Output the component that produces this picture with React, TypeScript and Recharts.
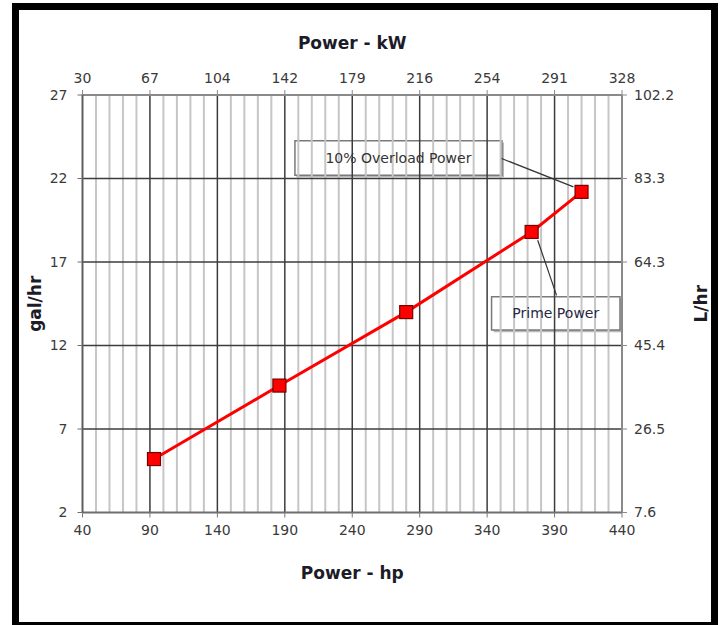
import React from 'react';
import {
  LineChart,
  Line,
  XAxis,
  YAxis,
  ReferenceLine,
  ReferenceArea,
} from 'recharts';

// readings taken off the original chart
const powerHp = [93, 186, 280, 373, 410];
const fuelGal = [5.2, 9.6, 14.0, 18.8, 21.2];

const hpTicks = [40, 90, 140, 190, 240, 290, 340, 390, 440];
const kwLabels = ['30', '67', '104', '142', '179', '216', '254', '291', '328'];
const galTicks = [2, 7, 12, 17, 22, 27];
const literLabels = ['7.6', '26.5', '45.4', '64.3', '83.3', '102.2'];

// light grid every 10 hp between the heavy ones
const minorHp: number[] = [];
for (let v = 50; v < 440; v += 10) {
  if (!hpTicks.includes(v)) minorHp.push(v);
}

const data = powerHp.map((hp, i) => ({ hp, gal: fuelGal[i] }));

const FONT = '"DejaVu Sans", Verdana, sans-serif';
const tickStyle = { fill: '#3a3a3a', fontSize: 14, fontFamily: FONT };
const titleStyle = { fill: '#1c1c28', fontSize: 17, fontWeight: 'bold', fontFamily: FONT };

const SquareDot = (props: any) => {
  const { cx, cy, index } = props;
  if (cx == null || cy == null) return null;
  return (
    <rect
      key={`dot-${index}`}
      x={cx - 6.5}
      y={cy - 6.5}
      width={13}
      height={13}
      fill="#ff0000"
      stroke="#7a0000"
      strokeWidth={1.2}
    />
  );
};

export default function App() {
  return (
    <div
      style={{
        position: 'absolute',
        left: 0,
        top: 0,
        width: 721,
        height: 625,
        overflow: 'hidden',
        background: '#fff',
      }}
    >
      <LineChart
        width={721}
        height={625}
        data={data}
        margin={{ top: 35, right: 5, bottom: 42.5, left: 20 }}
        style={{ fontFamily: FONT }}
      >
        <XAxis
          dataKey="hp"
          type="number"
          domain={[40, 440]}
          ticks={hpTicks}
          interval={0}
          allowDataOverflow
          height={70}
          tick={tickStyle}
          tickSize={5}
          tickMargin={8}
          stroke="#7a7a7a"
          axisLine={{ stroke: '#6e6e6e', strokeWidth: 2 }}
          label={{ value: 'Power - hp', position: 'insideBottom', offset: 4, style: titleStyle }}
        />
        <XAxis
          xAxisId="top"
          dataKey="hp"
          orientation="top"
          type="number"
          domain={[40, 440]}
          ticks={hpTicks}
          interval={0}
          allowDataOverflow
          height={60}
          tick={tickStyle}
          tickSize={5}
          tickMargin={7}
          tickFormatter={(v: number) => kwLabels[hpTicks.indexOf(v)]}
          stroke="#8a8a8a"
          axisLine={{ stroke: '#8a8a8a', strokeWidth: 2 }}
          label={{ value: 'Power - kW', position: 'insideTop', offset: 2, style: titleStyle }}
        />
        <YAxis
          type="number"
          domain={[2, 27]}
          ticks={galTicks}
          interval={0}
          allowDataOverflow
          width={62.5}
          tick={tickStyle}
          tickSize={5}
          tickMargin={10}
          stroke="#6e6e6e"
          axisLine={{ stroke: '#5e5e5e', strokeWidth: 2 }}
          label={{
            value: 'gal/hr',
            angle: -90,
            position: 'insideLeft',
            offset: 15,
            style: { ...titleStyle, textAnchor: 'middle' },
          }}
        />
        <YAxis
          yAxisId="right"
          dataKey="gal"
          orientation="right"
          type="number"
          domain={[2, 27]}
          ticks={galTicks}
          interval={0}
          allowDataOverflow
          width={94}
          tick={tickStyle}
          tickSize={5}
          tickMargin={7}
          tickFormatter={(v: number) => literLabels[galTicks.indexOf(v)]}
          stroke="#8a8a8a"
          axisLine={{ stroke: '#8a8a8a', strokeWidth: 2 }}
          label={{
            value: 'L/hr',
            angle: -90,
            position: 'insideRight',
            offset: 15,
            style: { ...titleStyle, textAnchor: 'middle' },
          }}
        />

        {minorHp.map((v) => (
          <ReferenceLine key={`m${v}`} x={v} stroke="#c6c6c6" strokeWidth={2} />
        ))}
        {hpTicks.slice(1, -1).map((v) => (
          <ReferenceLine key={`v${v}`} x={v} stroke="#3c3c3c" strokeWidth={1.5} />
        ))}
        {galTicks.slice(1, -1).map((v) => (
          <ReferenceLine key={`h${v}`} y={v} stroke="#3c3c3c" strokeWidth={1.5} />
        ))}

        {/* callout leaders */}
        <ReferenceLine
          segment={[{ x: 350.7, y: 23.2 }, { x: 404, y: 21.5 }]}
          stroke="#333"
          strokeWidth={1.2}
        />
        <ReferenceLine
          segment={[{ x: 377.5, y: 18.3 }, { x: 391.5, y: 15.0 }]}
          stroke="#333"
          strokeWidth={1.2}
        />

        {/* callout boxes */}
        <ReferenceArea x1={198.5} x2={352.5} y1={22.08} y2={24.15} fill="#b8b8b8" fillOpacity={1} stroke="none" />
        <ReferenceArea
          x1={197.5}
          x2={351}
          y1={22.2}
          y2={24.26}
          fill="#ffffff"
          fillOpacity={1}
          stroke="#7a7a7a"
          strokeWidth={1.5}
          label={{ value: '10% Overload Power', position: 'center', fill: '#333', fontSize: 14, fontFamily: FONT }}
        />
        <ReferenceArea x1={344.8} x2={440} y1={12.8} y2={14.8} fill="#b8b8b8" fillOpacity={1} stroke="none" ifOverflow="hidden" />
        <ReferenceArea
          x1={343.3}
          x2={438.5}
          y1={12.93}
          y2={14.92}
          fill="#ffffff"
          fillOpacity={1}
          stroke="#7a7a7a"
          strokeWidth={1.5}
          label={{ value: 'Prime Power', position: 'center', fill: '#2a2a44', fontSize: 14, fontFamily: FONT }}
        />

        <Line
          dataKey="gal"
          stroke="#ff0000"
          strokeWidth={3}
          dot={<SquareDot />}
          activeDot={false}
          isAnimationActive={false}
        />
      </LineChart>
      <div
        style={{
          position: 'absolute',
          left: 12,
          top: 3,
          width: 706,
          height: 626,
          border: '7px solid #000',
          boxSizing: 'border-box',
          pointerEvents: 'none',
        }}
      />
    </div>
  );
}
